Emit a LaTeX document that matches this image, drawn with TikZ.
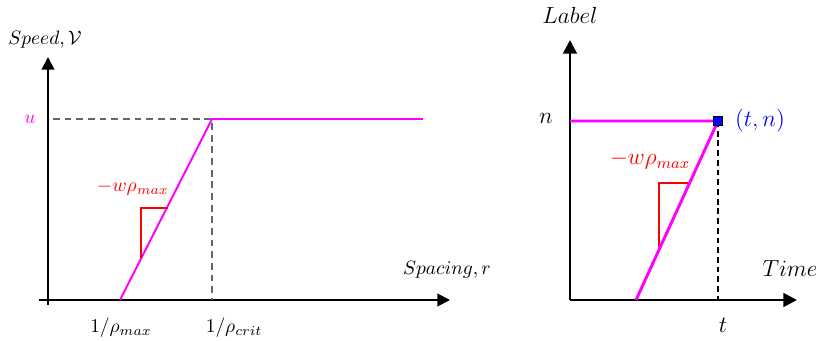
\documentclass[tikz,border=0pt]{standalone}
\usetikzlibrary{arrows.meta}
\definecolor{mag}{RGB}{255,0,255}
\definecolor{slopered}{RGB}{255,0,0}
\definecolor{ptblue}{RGB}{0,0,255}
\begin{document}
\begin{tikzpicture}[x=0.0181cm, y=-0.0181cm,
    axis/.style={line width=1pt, -{Triangle[length=6.5pt,width=6.5pt]}},
    axisR/.style={line width=1.4pt, -{Triangle[length=7pt,width=7pt]}},
    curve/.style={mag, line width=1pt},
    guide/.style={black!60, line width=0.6pt, dash pattern=on 3.5pt off 2.5pt},
    slope/.style={draw=slopered, line width=0.6pt}]
    \useasboundingbox (0,0) rectangle (816,341);
    % Fundamental diagram
    \coordinate (yb) at (48,305);
    \coordinate (yt) at (48,57);
    \coordinate (xl) at (39,300);
    \coordinate (xr) at (450,300);
    \coordinate (rmax) at (120,300);
    \coordinate (crit) at (212,119);
    \coordinate (cbase) at (212,300);
    \coordinate (uaxis) at (53,119);
    \coordinate (uend) at (423,119);
    \draw[axis] (yb) -- (yt);
    \draw[axis] (xl) -- (xr);
    \draw[guide] (uaxis) -- (crit) -- (cbase);
    \draw[curve] (rmax) -- (crit) -- (uend);
    \draw[slope] (141,258) -- (141,208) -- (168,208);
    \node[mag] (u) at (30,119) {$u$};
    \node (speed) at (45,40) {$Speed,\mathcal{V}$};
    \node (spacing) at (447,270) {$Spacing,r$};
    \node (lmax) at (121,328) {$1/\rho_{max}$};
    \node (lcrit) at (234,328) {$1/\rho_{crit}$};
    \node[slopered] (wl) at (133,188) {$-w\rho_{max}$};
    % Trajectory diagram
    \coordinate (o2) at (570,300);
    \coordinate (yt2) at (570,40);
    \coordinate (xr2) at (797,300);
    \coordinate (n0) at (570,121);
    \coordinate (tn) at (718,121);
    \coordinate (tbase) at (718,300);
    \coordinate (foot) at (636,300);
    \coordinate (sr1) at (659,248);
    \coordinate (sr2) at (659,183);
    \coordinate (sr3) at (688,183);
    \draw[axisR] (o2) -- (yt2);
    \draw[axisR] (o2) -- (xr2);
    \draw[line width=1.3pt, dash pattern=on 3pt off 2pt] (tn) -- (tbase);
    \draw[slope] (sr1) -- (sr2) -- (sr3);
    \draw[mag, line width=1.5pt] (n0) -- (tn) -- (foot);
    \node[draw=black, fill=ptblue, minimum size=4.6pt, inner sep=0pt] (pt) at (tn) {};
    \node[font=\large] (lab) at (570,15) {$Label$};
    \node[font=\large] (n) at (546,118) {$n$};
    \node[font=\large, ptblue] (tnl) at (760,121) {$(t,n)$};
    \node[font=\large] (time) at (790,269) {$Time$};
    \node[font=\large] (t) at (723,325) {$t$};
    \node[font=\large, slopered] (wr) at (650,160) {$-w\rho_{max}$};
\end{tikzpicture}
\end{document}
